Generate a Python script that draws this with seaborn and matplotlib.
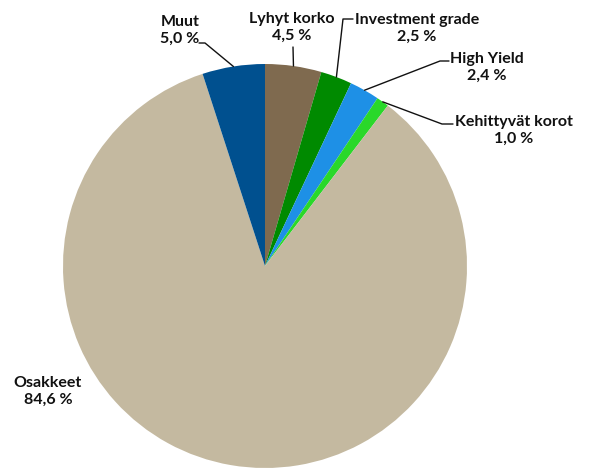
import matplotlib
matplotlib.use("Agg")
import matplotlib.pyplot as plt
import seaborn as sns
import numpy as np

categories = ["Lyhyt korko", "Investment grade", "High Yield", "Kehittyvät korot", "Osakkeet", "Muut"]
values = [4.5, 2.5, 2.4, 1.0, 84.6, 5.0]
value_labels = ["4,5 %", "2,5 %", "2,4 %", "1,0 %", "84,6 %", "5,0 %"]
colors = ["#7f6a4f", "#008a00", "#1e90e6", "#2ad82a", "#c4b9a0", "#00508f"]

sns.set_theme(style="white")
plt.rcParams['font.family'] = ['Lato', 'DejaVu Sans']

W, H = 589, 468
fig = plt.figure(figsize=(W / 100, H / 100), dpi=100)
cx, cy, R = 265, 266, 202
ax = fig.add_axes([(cx - R) / W, (H - cy - R) / H, 2 * R / W, 2 * R / H])
ax.pie(values, colors=sns.color_palette(colors), startangle=90, counterclock=False,
       radius=1.0, wedgeprops=dict(linewidth=0))
ax.set_xlim(-1, 1)
ax.set_ylim(-1, 1)
ax.set_aspect("equal")
ax.axis("off")

def d(px, py):
    return ((px - cx) / R, (cy - py) / R)

# label layout (pixel positions)
text_pos = {
    "Lyhyt korko": (292, 27),
    "Investment grade": (417, 28),
    "High Yield": (487, 67),
    "Kehittyvät korot": (514, 130),
    "Osakkeet": (48, 391),
    "Muut": (180, 30),
}
leader_mid = {
    "Lyhyt korko": [(293, 47)],
    "Investment grade": [(343, 19), (353, 19)],
    "High Yield": [(440, 61), (449, 61)],
    "Kehittyvät korot": [(442, 124), (453, 124)],
    "Osakkeet": None,
    "Muut": [(205, 43), (199, 43)],
}

total = sum(values)
cum = 0.0
for cat, v, lab in zip(categories, values, value_labels):
    mid = 90 - (cum + v / 2) / total * 360
    cum += v
    ex, ey = np.cos(np.radians(mid)), np.sin(np.radians(mid))
    tx, ty = d(*text_pos[cat])
    ax.text(tx, ty, f"{cat}\n{lab}", ha="center", va="center", fontsize=11.5,
            fontweight="bold", color="#111111", linespacing=1.25, clip_on=False)
    pts = leader_mid[cat]
    if pts:
        xs = [ex] + [d(*p)[0] for p in pts]
        ys = [ey] + [d(*p)[1] for p in pts]
        ax.plot(xs, ys, color="#111111", lw=1.0, clip_on=False)

fig.savefig("out.png", dpi=100)
